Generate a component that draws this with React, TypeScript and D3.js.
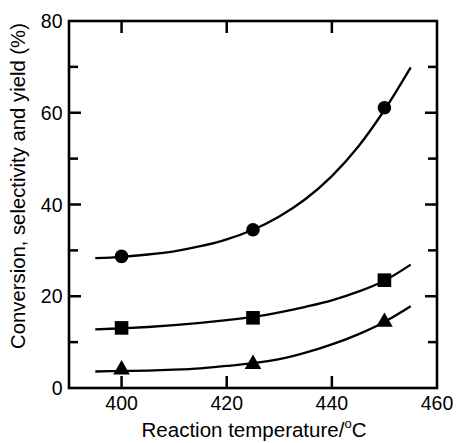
import React from "react";
import * as d3 from "d3";

const xTicks = [400, 420, 440, 460];
const yTicks = [0, 20, 40, 60, 80];
const yMinorTicks = [10, 30, 50, 70];

const tempPoints = [400, 425, 450];
const conversion = [28.7, 34.5, 61.1];
const selectivity = [13.1, 15.3, 23.5];
const yieldVals = [4.2, 5.4, 14.6];

const curveT = [395, 400, 405, 410, 415, 420, 425, 430, 435, 440, 445, 450, 455];
const conversionCurve = [28.3, 28.6, 29.1, 29.8, 30.9, 32.4, 34.5, 37.4, 41.2, 46.2, 52.6, 60.6, 69.9];
const selectivityCurve = [12.8, 13.0, 13.3, 13.7, 14.2, 14.8, 15.5, 16.5, 17.7, 19.1, 21.0, 23.4, 26.9];
const yieldCurve = [3.6, 3.7, 3.8, 4.0, 4.3, 4.8, 5.4, 6.3, 7.7, 9.5, 11.7, 14.4, 17.8];

const W = 456;
const H = 443;
const left = 69;
const right = 437;
const top = 21;
const bottom = 388;
const font = "'Liberation Sans', Arial, sans-serif";

export default function App() {
  const x = d3.scaleLinear().domain([390, 460]).range([left, right]);
  const y = d3.scaleLinear().domain([0, 80]).range([bottom, top]);
  const line = d3
    .line<number>()
    .x((_, i) => x(curveT[i]))
    .y((d) => y(d))
    .curve(d3.curveCatmullRom.alpha(0.5));

  const tri = d3.symbol().type(d3.symbolTriangle).size(120)();

  return (
    <svg
      width={W}
      height={H}
      style={{ position: "absolute", left: 0, top: 0, background: "#fff" }}
    >
      {[conversionCurve, selectivityCurve, yieldCurve].map((c, i) => (
        <path key={i} d={line(c) || ""} fill="none" stroke="#000" strokeWidth={2.3} />
      ))}
      {tempPoints.map((t, i) => (
        <circle key={"c" + i} cx={x(t)} cy={y(conversion[i])} r={6.8} fill="#000" />
      ))}
      {tempPoints.map((t, i) => (
        <rect
          key={"s" + i}
          x={x(t) - 6.8}
          y={y(selectivity[i]) - 6.8}
          width={13.6}
          height={13.6}
          fill="#000"
        />
      ))}
      {tempPoints.map((t, i) => (
        <path
          key={"t" + i}
          d={tri || ""}
          transform={`translate(${x(t)},${y(yieldVals[i]) + 1})`}
          fill="#000"
        />
      ))}

      {xTicks.slice(0, 3).map((t) => (
        <g key={"xt" + t}>
          <line x1={x(t)} x2={x(t)} y1={bottom} y2={bottom - 12} stroke="#000" strokeWidth={2.5} />
          <line x1={x(t)} x2={x(t)} y1={top} y2={top + 12} stroke="#000" strokeWidth={2.5} />
        </g>
      ))}
      {yTicks.slice(1, 4).map((t) => (
        <g key={"yt" + t}>
          <line x1={left} x2={left + 12} y1={y(t)} y2={y(t)} stroke="#000" strokeWidth={2.5} />
          <line x1={right} x2={right - 12} y1={y(t)} y2={y(t)} stroke="#000" strokeWidth={2.5} />
        </g>
      ))}
      {yMinorTicks.map((t) => (
        <g key={"ym" + t}>
          <line x1={left} x2={left + 9} y1={y(t)} y2={y(t)} stroke="#000" strokeWidth={2.5} />
          <line x1={right} x2={right - 9} y1={y(t)} y2={y(t)} stroke="#000" strokeWidth={2.5} />
        </g>
      ))}
      <rect
        x={left}
        y={top}
        width={right - left}
        height={bottom - top}
        fill="none"
        stroke="#000"
        strokeWidth={2.6}
      />

      {xTicks.map((t) => (
        <text
          key={"xl" + t}
          x={x(t)}
          y={410}
          textAnchor="middle"
          fontFamily={font}
          fontSize={19.5}
          fill="#000"
        >
          {t}
        </text>
      ))}
      {yTicks.map((t) => (
        <text
          key={"yl" + t}
          x={62.5}
          y={y(t)}
          dy="0.36em"
          textAnchor="end"
          fontFamily={font}
          fontSize={19.5}
          fill="#000"
        >
          {t}
        </text>
      ))}
      <text
        x={(left + right) / 2 + 1}
        y={437}
        textAnchor="middle"
        fontFamily={font}
        fontSize={20.5}
        fill="#000"
      >
        Reaction temperature/
        <tspan fontSize={13} dy={-9}>o</tspan>
        <tspan dy={9}>C</tspan>
      </text>
      <text
        transform={`translate(25,186) rotate(-90)`}
        textAnchor="middle"
        fontFamily={font}
        fontSize={20.3}
        fill="#000"
      >
        Conversion, selectivity and yield (%)
      </text>
    </svg>
  );
}
